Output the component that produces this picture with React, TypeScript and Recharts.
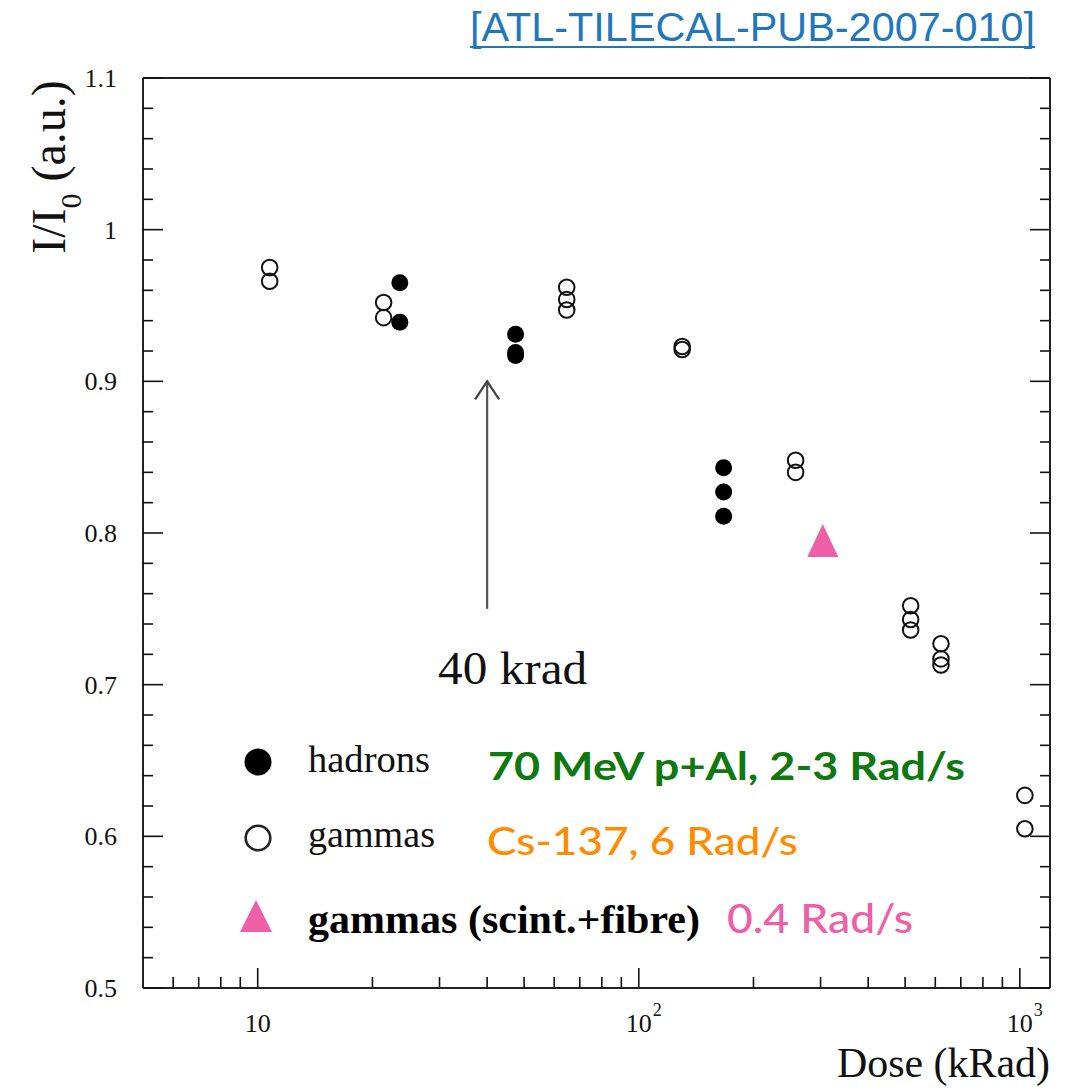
import React from 'react';
import { ScatterChart, Scatter, XAxis, YAxis, ReferenceLine } from 'recharts';

// Relative light yield I/I0 versus accumulated dose (kRad)
const hadronDose = [23.6, 23.6, 47.5, 47.5, 47.5, 167, 167, 167];
const hadronRatio = [0.965, 0.939, 0.931, 0.919, 0.917, 0.843, 0.827, 0.811];

const gammaDose = [10.75, 10.75, 21.4, 21.4, 64.7, 64.7, 64.7, 130, 130, 258, 258, 517, 517, 517, 621, 621, 621, 1031, 1031];
const gammaRatio = [0.975, 0.966, 0.952, 0.942, 0.962, 0.954, 0.947, 0.923, 0.921, 0.848, 0.84, 0.752, 0.743, 0.736, 0.727, 0.717, 0.713, 0.627, 0.605];

const fibreDose = [304];
const fibreRatio = [0.795];

// 40 krad marker arrow
const arrowDose = 40;
const arrowFrom = 0.75;
const arrowTo = 0.9;

// Axis ticks
const xTicks = [6, 7, 8, 9, 10, 20, 30, 40, 50, 60, 70, 80, 90, 100, 200, 300, 400, 500, 600, 700, 800, 900, 1000];
const xMajorTicks = [10, 100, 1000];
const xTickBase = ['10', '10', '10'];
const xTickExp = ['', '2', '3'];
const yTicks = [0.5, 0.52, 0.54, 0.56, 0.58, 0.6, 0.62, 0.64, 0.66, 0.68, 0.7, 0.72, 0.74, 0.76, 0.78, 0.8, 0.82, 0.84, 0.86, 0.88, 0.9, 0.92, 0.94, 0.96, 0.98, 1.0, 1.02, 1.04, 1.06, 1.08, 1.1];
const yMajorTicks = [0.5, 0.6, 0.7, 0.8, 0.9, 1.0, 1.1];
const yTickLabels = ['0.5', '0.6', '0.7', '0.8', '0.9', '1', '1.1'];

const toPoints = (xs: number[], ys: number[]) => xs.map((dose, i) => ({ dose, ratio: ys[i] }));
const hadrons = toPoints(hadronDose, hadronRatio);
const gammas = toPoints(gammaDose, gammaRatio);
const fibre = toPoints(fibreDose, fibreRatio);

const SERIF = '"Liberation Serif", "DejaVu Serif", serif';
const SANS = 'Lato, "Open Sans", sans-serif';
const INK = '#111';
const GREEN = '#0f780f';
const ORANGE = '#ff8c00';
const PINK = '#ee5fa8';
const LINK = '#1f78be';

const isMajorY = (v: number) => yMajorTicks.some((m) => Math.abs(m - v) < 1e-6);
const yLabel = (v: number) => yTickLabels[yMajorTicks.findIndex((m) => Math.abs(m - v) < 1e-6)];

const BottomTick = (props: any) => {
  const { x, y, payload } = props;
  const idx = xMajorTicks.indexOf(payload.value);
  const major = idx >= 0;
  return (
    <g>
      <line x1={x} x2={x} y1={y} y2={y - (major ? 20 : 11)} stroke={INK} strokeWidth={1.6} />
      {major && (
        <g fontFamily={SERIF} fill={INK}>
          <text x={x} y={y + 44} fontSize={26} textAnchor="middle">{xTickBase[idx]}</text>
          {xTickExp[idx] && (
            <text x={x + 14} y={y + 28} fontSize={18}>{xTickExp[idx]}</text>
          )}
        </g>
      )}
    </g>
  );
};

const TopTick = (props: any) => {
  const { x, y, payload } = props;
  const major = xMajorTicks.includes(payload.value);
  return <line x1={x} x2={x} y1={y} y2={y + (major ? 20 : 11)} stroke={INK} strokeWidth={1.6} />;
};

const LeftTick = (props: any) => {
  const { x, y, payload } = props;
  const major = isMajorY(payload.value);
  return (
    <g>
      <line x1={x} x2={x + (major ? 20 : 10)} y1={y} y2={y} stroke={INK} strokeWidth={1.6} />
      {major && (
        <text x={x - 26} y={y + 9} fontSize={26} fontFamily={SERIF} fill={INK} textAnchor="end">
          {yLabel(payload.value)}
        </text>
      )}
    </g>
  );
};

const RightTick = (props: any) => {
  const { x, y, payload } = props;
  const major = isMajorY(payload.value);
  return <line x1={x} x2={x - (major ? 20 : 10)} y1={y} y2={y} stroke={INK} strokeWidth={1.6} />;
};

const FilledDot = (props: any) => <circle cx={props.cx} cy={props.cy} r={8.5} fill="#000" />;
const OpenDot = (props: any) => (
  <circle cx={props.cx} cy={props.cy} r={7.8} fill="none" stroke={INK} strokeWidth={2} />
);
const Triangle = (props: any) => {
  const { cx, cy } = props;
  return <path d={`M${cx},${cy - 16.5} L${cx + 15.5},${cy + 16.5} L${cx - 15.5},${cy + 16.5} Z`} fill={PINK} />;
};

const Arrow = (props: any) => {
  const { x1, y1, x2, y2 } = props;
  const bottom = Math.max(y1, y2);
  const top = Math.min(y1, y2);
  return (
    <g>
      <line x1={x1} x2={x2} y1={bottom} y2={top} stroke="#555" strokeWidth={2.2} />
      <polyline
        points={`${x1 - 12},${top + 18} ${x1},${top} ${x1 + 12},${top + 18}`}
        fill="none"
        stroke="#444"
        strokeWidth={2.2}
      />
      <text x={x1 - 49} y={bottom + 75} fontFamily={SERIF} fontSize={46} fill={INK} textLength={149} lengthAdjust="spacingAndGlyphs">
        40 krad
      </text>
    </g>
  );
};

const DoseTitle = (props: any) => {
  const vb = props.viewBox;
  return (
    <text x={vb.x + vb.width} y={vb.y + 89} textAnchor="end" fontFamily={SERIF} fontSize={43} fill={INK} textLength={213} lengthAdjust="spacingAndGlyphs">
      Dose (kRad)
    </text>
  );
};

const RatioTitle = (props: any) => {
  const vb = props.viewBox;
  return (
    <text transform={`translate(${vb.x - 18},${vb.y + 89}) rotate(-90)`} textAnchor="middle" fontFamily={SERIF} fontSize={48} fill={INK}>
      <tspan>I/I</tspan>
      <tspan fontSize={30} dy={16}>0</tspan>
      <tspan dy={-16}> (a.u.)</tspan>
    </text>
  );
};

const axisLine = { stroke: '#222', strokeWidth: 2 };

export default function App() {
  return (
    <div style={{ position: 'absolute', left: 0, top: 0, width: 1074, height: 1090, background: '#fff' }}>
      <ScatterChart width={1074} height={1090} margin={{ top: 68, right: 14, bottom: 62, left: 83 }}>
        <XAxis
          xAxisId="bottom"
          dataKey="dose"
          type="number"
          scale="log"
          domain={[5, 1200]}
          allowDataOverflow
          ticks={xTicks}
          interval={0}
          tickSize={0}
          tickMargin={0}
          tickLine={false}
          tick={BottomTick}
          axisLine={axisLine}
          height={40}
          label={DoseTitle}
        />
        <XAxis
          xAxisId="top"
          orientation="top"
          type="number"
          scale="log"
          domain={[5, 1200]}
          allowDataOverflow
          ticks={xTicks}
          interval={0}
          tickSize={0}
          tickMargin={0}
          tickLine={false}
          tick={TopTick}
          axisLine={axisLine}
          height={10}
        />
        <YAxis
          yAxisId="left"
          dataKey="ratio"
          type="number"
          domain={[0.5, 1.1]}
          allowDataOverflow
          ticks={yTicks}
          interval={0}
          tickSize={0}
          tickMargin={0}
          tickLine={false}
          tick={LeftTick}
          axisLine={axisLine}
          width={60}
          label={RatioTitle}
        />
        <YAxis
          yAxisId="right"
          orientation="right"
          type="number"
          domain={[0.5, 1.1]}
          allowDataOverflow
          ticks={yTicks}
          interval={0}
          tickSize={0}
          tickMargin={0}
          tickLine={false}
          tick={RightTick}
          axisLine={axisLine}
          width={10}
        />
        <ReferenceLine
          xAxisId="bottom"
          yAxisId="left"
          segment={[
            { x: arrowDose, y: arrowFrom },
            { x: arrowDose, y: arrowTo },
          ]}
          shape={Arrow}
        />
        <Scatter name="gammas" data={gammas} xAxisId="bottom" yAxisId="left" shape={OpenDot} isAnimationActive={false} />
        <Scatter name="hadrons" data={hadrons} xAxisId="bottom" yAxisId="left" shape={FilledDot} isAnimationActive={false} />
        <Scatter name="gammas (scint.+fibre)" data={fibre} xAxisId="bottom" yAxisId="left" shape={Triangle} isAnimationActive={false} />
      </ScatterChart>

      <svg width={1074} height={1090} style={{ position: 'absolute', left: 0, top: 0, pointerEvents: 'none' }}>
        <text x={470} y={41} fontFamily='"Liberation Sans", Arial, sans-serif' fontSize={40} fontWeight={300} fill={LINK} textLength={565} lengthAdjust="spacingAndGlyphs">
          [ATL-TILECAL-PUB-2007-010]
        </text>
        <line x1={470} x2={1035} y1={47} y2={47} stroke={LINK} strokeWidth={2} />

        <circle cx={258} cy={762} r={13.5} fill="#000" />
        <text x={308} y={772} fontFamily={SERIF} fontSize={37} fill={INK} textLength={122} lengthAdjust="spacingAndGlyphs">hadrons</text>
        <text x={488} y={780} fontFamily={SANS} fontSize={39} fontWeight={700} fill={GREEN} textLength={477} lengthAdjust="spacingAndGlyphs">70 MeV p+Al, 2-3 Rad/s</text>

        <circle cx={258} cy={838} r={12.3} fill="none" stroke="#222" strokeWidth={2.6} />
        <text x={308} y={847} fontFamily={SERIF} fontSize={38} fill={INK} textLength={127} lengthAdjust="spacingAndGlyphs">gammas</text>
        <text x={487} y={855} fontFamily={SANS} fontSize={38} fontWeight={500} fill={ORANGE} textLength={311} lengthAdjust="spacingAndGlyphs">Cs-137, 6 Rad/s</text>

        <path d="M256,900 L272,932 L240,932 Z" fill={PINK} />
        <text x={308} y={933} fontFamily={SERIF} fontSize={39} fontWeight={700} fill="#000" textLength={392} lengthAdjust="spacingAndGlyphs">gammas (scint.+fibre)</text>
        <text x={727} y={933} fontFamily={SANS} fontSize={40} fontWeight={500} fill={PINK} textLength={186} lengthAdjust="spacingAndGlyphs">0.4 Rad/s</text>
      </svg>
    </div>
  );
}
